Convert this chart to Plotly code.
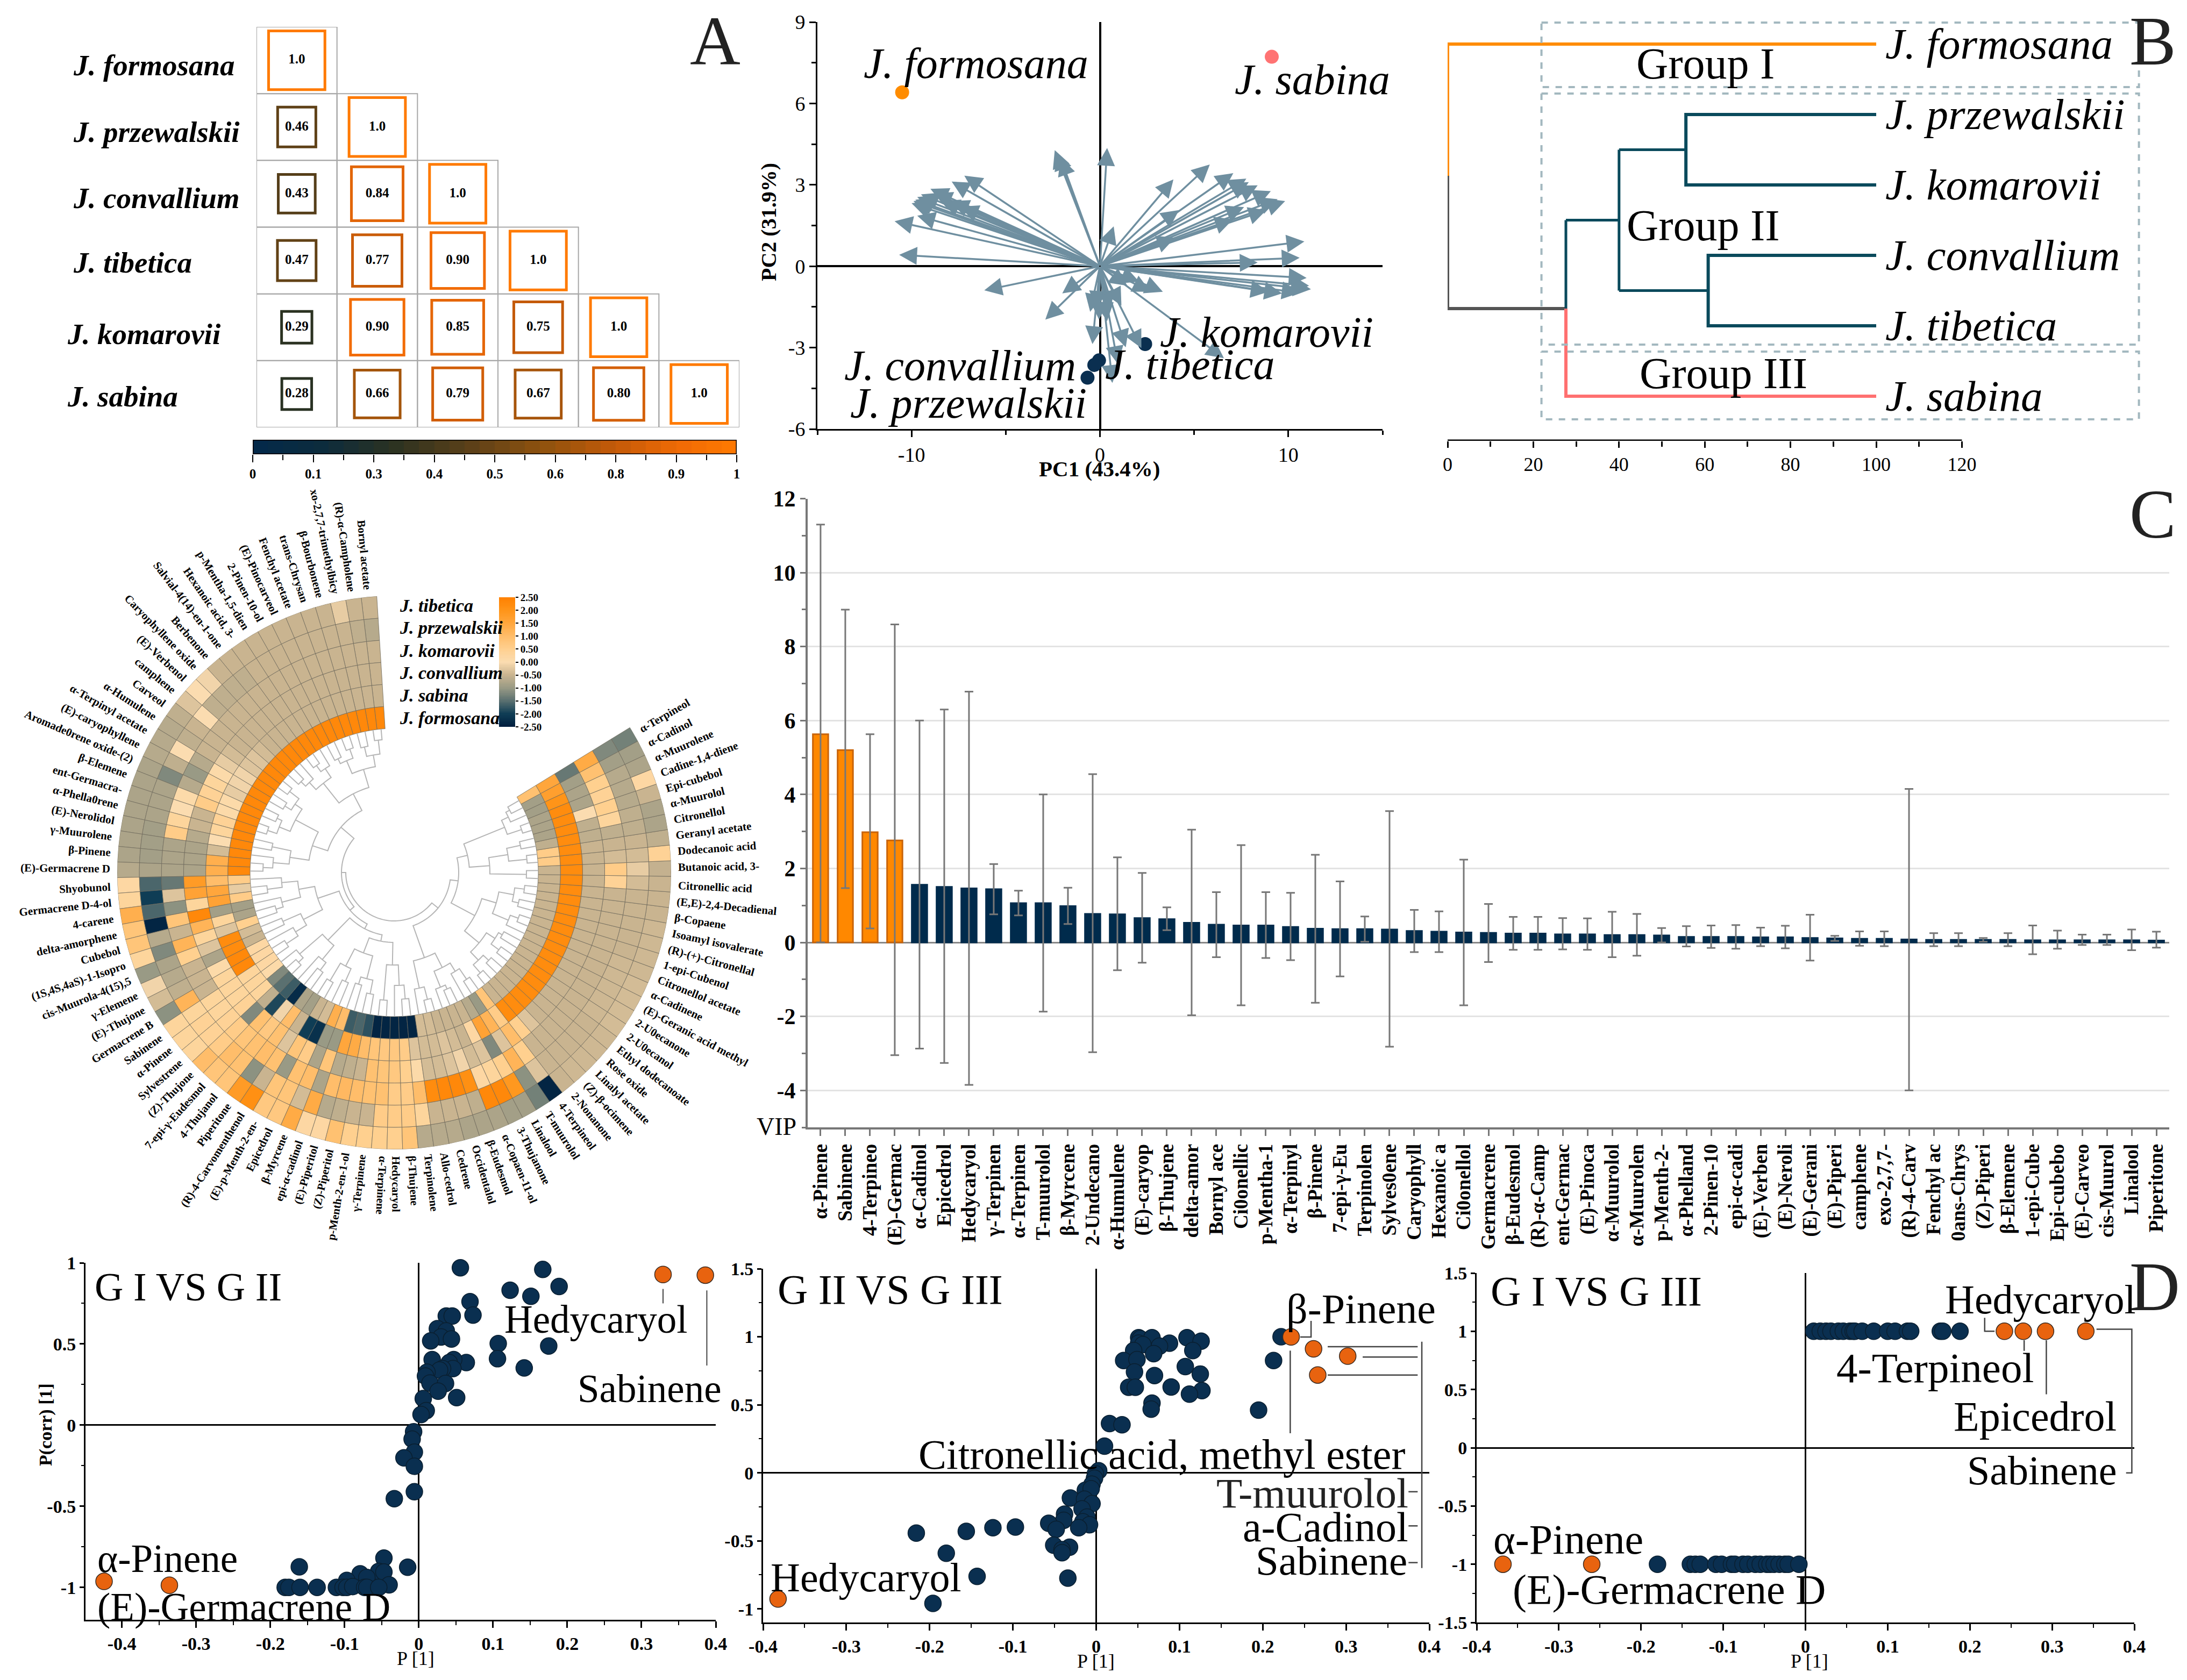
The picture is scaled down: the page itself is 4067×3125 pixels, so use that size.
import re
import numpy as np
import plotly.graph_objects as go

W, H = 4067, 3125
SERIF = "Liberation Serif"
NAVY = "#0a2f50"
ORANGE = "#e8630f"

# ---------- Panel A ----------
species_a = ["J. formosana", "J. przewalskii", "J. convallium", "J. tibetica", "J. komarovii", "J. sabina"]
corr_rows = [[1.0], [0.46, 1.0], [0.43, 0.84, 1.0], [0.47, 0.77, 0.90, 1.0],
             [0.29, 0.90, 0.85, 0.75, 1.0], [0.28, 0.66, 0.79, 0.67, 0.80, 1.0]]
corr_labels = [["1.0"], ["0.46", "1.0"], ["0.43", "0.84", "1.0"], ["0.47", "0.77", "0.90", "1.0"],
               ["0.29", "0.90", "0.85", "0.75", "1.0"], ["0.28", "0.66", "0.79", "0.67", "0.80", "1.0"]]
corr_bar_ticks = ["0", "0.1", "0.3", "0.4", "0.5", "0.6", "0.8", "0.9", "1"]
corr_scale = [[0, "#03294a"], [0.15, "#0d2c3c"], [0.3, "#2e3320"], [0.45, "#5c4018"], [0.6, "#8f520e"],
              [0.75, "#c45a08"], [0.88, "#f06a05"], [1, "#ff7a00"]]

# ---------- Panel B PCA ----------
pca_x = [-10.5, 9.12, 2.4, -0.05, -0.3, -0.66]
pca_y = [6.41, 7.72, -2.87, -3.47, -3.64, -4.11]
pca_col = ["#ff8c00", "#ff7373", NAVY, NAVY, NAVY, NAVY]
load_x = [-10.9, -10.66, -9.7, -10.0, -9.9, -9.8, -9.7, -9.5, -9.0, -8.8, -8.4, -7.9, -7.4, -7.87, -7.2, -2.4, -2.3, -2.1,
          0.38, 5.83, 3.9, 7.08, 7.77, 7.9, 8.37, 9.07, 9.43, 9.83, 8.84, 7.65, 4.2, 7.06, 3.98, 0.73, 10.85, 10.6, 8.37,
          10.97, 11.2, 10.6, 9.67, 8.95, 11.1, 3.34, 2.68, 2.08, 1.45, 6.58, 2.2, 1.37, 0.66, 0.95, 0.55, 1.14, -0.4, -0.05,
          -0.52, -0.17, 0.38, -2.9, -2.0, -6.14]
load_y = [1.66, 0.42, 1.86, 2.32, 2.4, 2.45, 2.55, 2.65, 2.85, 2.7, 2.4, 2.4, 2.2, 3.12, 3.34, 4.28, 4.2, 4.0,
          4.36, 3.75, 3.2, 3.43, 3.23, 3.1, 2.98, 2.77, 2.47, 2.4, 2.07, 2.18, 2.07, 1.73, 1.05, 1.47, 0.91, 0.31, 0.14,
          -0.43, -0.85, -0.98, -1.0, -0.94, -0.72, -0.94, -0.94, -0.57, -0.72, -3.39, -3.02, -2.99, -4.3, -3.6, -1.57, -1.45, -2.87, -1.97,
          -1.68, -1.57, -2.02, -1.97, -1.0, -0.89]

# ---------- Panel B dendrogram ----------
cluster_names = ["J. formosana", "J. przewalskii", "J. komarovii", "J. convallium", "J. tibetica", "J. sabina"]

# ---------- Panel C VIP ----------
vip_names = ["α-Pinene", "Sabinene", "4-Terpineo", "(E)-Germac", "α-Cadinol", "Epicedrol", "Hedycaryol", "γ-Terpinen",
             "α-Terpinen", "T-muurolol", "β-Myrcene", "2-Undecano", "α-Humulene", "(E)-caryop", "β-Thujene", "delta-amor",
             "Bornyl ace", "Ci0onellic", "p-Mentha-1", "α-Terpinyl", "β-Pinene", "7-epi-γ-Eu", "Terpinolen", "Sylves0ene",
             "Caryophyll", "Hexanoic a", "Ci0onellol", "Germacrene", "β-Eudesmol", "(R)-α-Camp", "ent-Germac", "(E)-Pinoca",
             "α-Muurolol", "α-Muurolen", "p-Menth-2-", "α-Phelland", "2-Pinen-10", "epi-α-cadi", "(E)-Verben", "(E)-Neroli",
             "(E)-Gerani", "(E)-Piperi", "camphene", "exo-2,7,7-", "(R)-4-Carv", "Fenchyl ac", "0ans-Chrys", "(Z)-Piperi",
             "β-Elemene", "1-epi-Cube", "Epi-cubebo", "(E)-Carveo", "cis-Muurol", "Linalool", "Piperitone"]
vip_val = [5.63, 5.2, 2.98, 2.76, 1.56, 1.5, 1.46, 1.44, 1.06, 1.06, 0.98, 0.77, 0.76, 0.66, 0.63, 0.53, 0.48, 0.46, 0.46,
           0.42, 0.37, 0.36, 0.36, 0.35, 0.31, 0.29, 0.27, 0.26, 0.24, 0.24, 0.22, 0.22, 0.2, 0.2, 0.19, 0.15, 0.15, 0.15,
           0.14, 0.14, 0.12, 0.11, 0.1, 0.1, 0.08, 0.07, 0.07, 0.07, 0.07, 0.06, 0.06, 0.06, 0.06, 0.06, 0.05]
vip_hi = [11.3, 9.0, 5.63, 8.6, 6.0, 6.3, 6.78, 2.12, 1.4, 4.0, 1.48, 4.55, 2.3, 1.88, 0.95, 3.05, 1.36, 2.63, 1.36,
          1.34, 2.37, 1.65, 0.7, 3.55, 0.88, 0.84, 2.24, 1.04, 0.69, 0.69, 0.66, 0.65, 0.83, 0.77, 0.39, 0.44, 0.46, 0.47,
          0.4, 0.45, 0.75, 0.18, 0.3, 0.3, 4.15, 0.25, 0.25, 0.12, 0.25, 0.46, 0.32, 0.21, 0.21, 0.35, 0.29]
vip_lo = [0.0, 1.47, 0.38, -3.05, -2.87, -3.26, -3.85, 0.76, 0.73, -1.87, 0.5, -2.97, -0.75, -0.55, 0.33, -1.97, -0.4, -1.7, -0.42,
          -0.48, -1.63, -0.92, 0.02, -2.82, -0.26, -0.26, -1.7, -0.53, -0.2, -0.2, -0.19, -0.2, -0.4, -0.36, 0.0, -0.11, -0.15, -0.17,
          -0.1, -0.16, -0.49, 0.04, -0.09, -0.1, -4.0, -0.1, -0.1, 0.02, -0.1, -0.32, -0.17, -0.07, -0.07, -0.21, -0.14]
vip_colors = ["#ff8800"] * 4 + ["#002b4c"] * 51

# ---------- Circular heat map ----------
ring_names = ["J. tibetica", "J. przewalskii", "J. komarovii", "J. convallium", "J. sabina", "J. formosana"]
compounds = ["Bornyl acetate", "(R)-α-Campholene", "xo-2,7,7-trimethylbicy", "β-Bourbonene", "trans-Chrysan", "Fenchyl acetate",
             "(E)-Pinocarveol", "2-Pinen-10-ol", "p-Mentha-1,5-dien", "Hexanoic acid, 3-", "Salvial-4(14)-en-1-one", "Berbenone",
             "Caryophyllene oxide", "(E)-Verbenol", "camphene", "Carveol", "α-Humulene", "α-Terpinyl acetate", "(E)-caryophyllene",
             "Aromade0rene oxide-(2)", "β-Elemene", "ent-Germacra-", "α-Phella0rene", "(E)-Nerolidol", "γ-Muurolene", "β-Pinene",
             "(E)-Germacrene D", "Shyobunol", "Germacrene D-4-ol", "4-carene", "delta-amorphene", "Cubebol", "(1S,4S,4aS)-1-Isopro",
             "cis-Muurola-4(15),5", "γ-Elemene", "(E)-Thujone", "Germacrene B", "Sabinene", "α-Pinene", "Sylvestrene", "(Z)-Thujone",
             "7-epi-γ-Eudesmol", "4-Thujanol", "Piperitone", "(R)-4-Carvomenthenol", "(E)-p-Menth-2-en-", "Epicedrol", "β-Myrcene",
             "epi-α-cadinol", "(E)-Piperitol", "(Z)-Piperitol", "p-Menth-2-en-1-ol", "γ-Terpinene", "α-Terpinene", "Hedycaryol",
             "β-Thujene", "Terpinolene", "Allo-cedrol", "Cedrene", "Occidentalol", "β-Eudesmol", "α-Copaen-11-ol", "3-Thujanone",
             "Linalool", "T-muurolol", "4-Terpineol", "2-Nonanone", "(Z)-β-ocimene", "Linalyl acetate", "Rose oxide",
             "Ethyl dodecanoate", "2-U0ecanol", "2-U0ecanone", "(E)-Geranic acid methyl", "α-Cadinene", "Citronellol acetate",
             "1-epi-Cubenol", "(R)-(+)-Citronellal", "Isoamyl isovalerate", "β-Copaene", "(E,E)-2,4-Decadienal", "Citronellic acid",
             "Butanoic acid, 3-", "Dodecanoic acid", "Geranyl acetate", "Citronellol", "α-Muurolol", "Epi-cubebol", "Cadine-1,4-diene",
             "α-Muurolene", "α-Cadinol", "α-Terpineol"]
z_tibetica = [-.5, -.5, -.2, -.5, -.5, -.5, -.5, -.5, -.5, -.5, -.5, -.5,
              -.1, 0, -.3, -.6, -.7, -.7, -.7, -.8, -.8, -.8, -.8, -.8, -.8, -.8, -.7,
              .2, .3, 1.3, .8, .8, .3, -1.0, -.1, -.4, -1.1, .3,
              .3, .3, 1.0, .8, .8, 1.8, 2.1, .7, .7, 1.4, .2, .2, .9, .5, .5, .5, .5, .8, -.7, -.7, -.7, -.8, -.8, -.8, -.9, -.9, -1.3, -2.4,
              -.5, -.45, -.45, -.45, -.45, -.4, -.4, -.4, -.4, -.45, -.45, -.45, -.45, -.5, -.5, -.5, -.55,
              .4, -.6, -.8, -.8, -.5, .2, -.8, -.9, -1.3]
z_przewalskii = [-.7, -.6, -.5, -.5, -.5, -.5, -.5, -.5, -.5, -.5, -.6, -.6,
                 -.6, -.6, 0, -.5, -.6, 0, -.6, -1.2, -.8, -.8, -.8, -.9, -.9, -.9, -.8,
                 -1.6, -2.0, -1.6, -2.4, -.7, -1.2, -.8, -.7, -.6, 1.2, .3,
                 .4, .4, .6, 1.0, .9, -1.1, -.5, .8, .8, -.4, 1.4, -.7, -.6, -.5, -.5, .6, .6, .6, .3, -.5, -.5, -.5, -.6, 2.3, 2.3, 1.9, -1.1, -.3,
                 -.5, -.5, -.5, -.5, -.5, -.45, -.45, -.45, -.45, -.45, -.5, -.5, -.5, -.5, -.5, -.4, -.2,
                 -.4, -.5, -.6, -.6, -.7, -.7, -.7, -.9, -1.2]
z_komarovii = [-.5] * 12 + [-.5, -.5, -.5, -.5, -.5, -.7, -1.0, -.7, .1, 0, .3, .6, -.8, -.8, -.8] + \
              [-1.4, -.3, -1.1, .8, -.5, 1.2, .5, -.5, -.5, -.5, .3] + \
              [.3, .4, .6, .8, .9, 1.0, .9, -1.0, .9, 1.0, -.8, 1.0, 1.1, 1.0, .9, .9, .6, .6, 1.0, 2.2, 2.3, 2.3, 2.1, .2, .3, .5, 1.2, .5] + \
              [-.5] * 15 + [.4, .6, -.4, -.5, -.6, .3, .5, .4, .5, .9, 1.4]
z_convallium = [-.5] * 12 + [-.5, -.5, -.5, -.4, -.2, .1, .3, .4, .6, -.5, -.5, -.7, -.8, -.8, -.8] + \
               [1.8, 1.6, .3, 2.3, 1.2, .3, -.3, -.8, .1, .3, .3] + \
               [.3, .4, -1.2, .9, .7, .9, -.3, .8, .6, -.8, .8, -.7, -.6, -.5, .9, .8, .7, .5, .1, -.4, -.4, -.3, -.1, -.4, -.3, -1.2, -.3, 1.0] + \
               [.5, -.3] + [-.5] * 17 + [-.6, -.6, 0, -.8, -.8, -.9, -1.4]
z_sabina = [-.5] * 12 + [-.5, -.4, -.3, -.3, -.1, -.1, -.2, .1, .1, .4, .3, 0, -.4, 1.3, 1.3] + \
           [1.0, 1.5, 1.6, -.9, .3, -.3, 2.2, 2.2, 2.3, 2.3, .3] + \
           [.3, .3, -.6, -1.9, -.1, 1.0, -.5, -2.0, -2.2, -1.0, -1.0, 1.5, 1.4, 1.0, .8, .7, .7, .6, -.3, -.4, -.4, -.3, -.4, -.5, .2, 1.6, 1.2, .6] + \
           [2.2] * 23 + [2.0, 1.7, 1.5]
z_formosana = [2.3] * 27 + [.6, -.2, .6, -.9, -.8, .5, -.4, -.5, .2, .2, .2] + \
              [.1, -1.2, -1.5, -1.7, -2.3, -.8, -.9, -.5, -.4, 1.3, 1.0, -1.7, -1.6, -1.8, -2.4, -2.4, -2.4, -2.4, -2.4, -.4, -.4, -.5, -.5, -.5, -.5, -.7, -1.0, .8] + \
              [-.5] * 17 + [.6, .6, -.6, -.8, -.8, -.8, -.9, -.9, .9]
heat_rings = [z_tibetica, z_przewalskii, z_komarovii, z_convallium, z_sabina, z_formosana]
heat_scale = [[0, "#001f3f"], [.1, "#0f3d55"], [.2, "#5a7070"], [.3, "#999a85"], [.4, "#c9b490"], [.5, "#fbdcb0"],
              [.6, "#ffd08f"], [.7, "#ffbd6a"], [.8, "#ffa63c"], [.9, "#ff9418"], [1, "#ff8000"]]
heat_ticks = ["-2.50", "-2.00", "-1.50", "-1.00", "-0.50", "0.00", "0.50", "1.00", "1.50", "2.00", "2.50"]
tree_a = "(((*,*)248,(*,*)240)222,((*,*)244,(*,*)236)226)200"
tree_b = "((*,(*,*)246)232,(*,(*,*)242)230)212"
tree_c = "(((*,*)246,(*,*)238)224,((*,*)240,(*,*)248)230)208"
tree_d = "((*,*)232,(*,(*,*)244)226)196"
tree_e = "((*,(*,*)238)210,(*,(*,*)230)216)180"
tree_f = "((*,*)226,(*,(*,*)240)214)190"
tree_g = "((*,(*,*)244)232,(*,(*,*)228)210)176"
tree_h = "(((*,*)234,(*,*)222)196,((*,*)218,(*,*)230)204)160"
tree_i = "((*,*)238,(*,(*,*)236)210)172"
tree_j = "((*,(*,*)244)220,((*,(*,*)238)230,(*,(*,*)240)216)198)168"
tree_k = "(((*,*)246,(*,*)240)226,((*,*)242,(*,*)232)224)205"
tree_l = "((*,(*,*)246)230,((*,*)238,(*,*)244)226)198"
tree_m = "((*,*)246,((*,*)248,(*,*)240)214)178"
tree_n = "((*,*)250,(*,(*,*)244)236)222"
wing_1 = f"(({tree_a},{tree_b})165,({tree_c},{tree_d})160)130"
wing_2 = f"(({tree_e},{tree_f})150,({tree_g},({tree_h},{tree_i})130)118)108"
wing_3 = f"({tree_j},(({tree_k},{tree_l})170,({tree_m},{tree_n})140)120)105"
heat_tree = f"(({wing_1},{wing_2})98,{wing_3})90"
for name, ring in zip(ring_names, heat_rings):
    assert len(ring) == 92, (name, len(ring))
assert len(compounds) == 92

# ---------- Panel D ----------
d1_x = [.056, .167, .189, .123, .151, .069, .073, .037, .045, .025, .037, .03, .044, .016, .107, .175, .106, .064, .047, .041, .018,
        .142, .046, .032, .028, .011, .009, .015, .036, .026, .051, .006, .01, .003, -.007, -.009, -.006, -.02, -.006, -.006, -.033,
        -.047, -.161, -.015, -.079, -.054, -.047, -.097, -.07, -.04, -.18, -.175, -.16, -.137, -.111, -.102, -.097, -.089, -.073, -.07, -.054]
d1_y = [.969, .959, .854, .831, .794, .761, .678, .672, .672, .594, .58, .543, .53, .519, .502, .487, .409, .385, .404, .385, .404,
        .352, .348, .348, .339, .326, .302, .259, .256, .209, .169, .163, .089, .065, -.041, -.087, -.167, -.202, -.254, -.411, -.454,
        -.82, -.874, -.876, -.917, -.902, -.906, -.957, -.939, -.985, -1, -1, -1, -1, -1, -1, -1, -.995, -1, -1, -1]
d1_ox = [-.424, -.336, .329, .386]
d1_oy = [-.963, -.987, .928, .924]
d2_x = [.222, .213, .195, .051, .053, .067, .109, .126, .088, .051, .076, .056, .045, .069, .116, .033, .049, .107, .046, .125, .07, .039,
        .047, .09, .127, .112, .067, .066, .016, .031, .01, .003, -.001, -.002, -.005, -.013, -.006, -.031, -.014, -.005, -.017, -.038,
        -.011, -.039, -.057, -.016, -.008, -.021, -.048, -.097, -.124, -.156, -.216, -.051, -.032, -.041, -.041, -.18, -.143, -.034, -.196]
d2_y = [1.0, .825, .461, .993, .985, .993, .993, .968, .953, .953, .931, .942, .898, .876, .898, .825, .832, .781, .741, .726, .715, .629,
        .629, .631, .604, .578, .512, .468, .362, .353, .196, .015, -.007, -.04, -.084, -.128, -.117, -.185, -.194, -.227, -.265, -.304,
        -.326, -.349, -.371, -.36, -.382, -.404, -.415, -.399, -.404, -.43, -.443, -.532, -.547, -.565, -.587, -.591, -.761, -.774, -.96]
d2_ox = [-.382, .234, .261, .302, .266]
d2_oy = [-.927, .999, .911, .858, .719]
d3_x = [.01, .018, .025, .031, .04, .046, .054, .058, .06, .069, .083, .1, .109, .124, .128, .164, .167, .188,
        -.18, -.14, -.134, -.128, -.109, -.102, -.09, -.086, -.076, -.07, -.061, -.055, -.047, -.043, -.038, -.032, -.025, -.021, -.008]
d3_y = [1] * 18 + [-1] * 19
d3_ox = [.242, .265, .292, .341, -.368, -.26]
d3_oy = [1, 1, 1, 1, -1, -1]
x_tick_vals = [-.4, -.3, -.2, -.1, 0, .1, .2, .3, .4]
x_tick_text = ["-0.4", "-0.3", "-0.2", "-0.1", "0", "0.1", "0.2", "0.3", "0.4"]
y_tick_vals = [-1.5, -1, -.5, 0, .5, 1, 1.5]
y_tick_text = ["-1.5", "-1", "-0.5", "0", "0.5", "1", "1.5"]


# ---------- helpers ----------
def fx(px):
    return px / W


def fy(px):
    return 1 - px / H


layout = dict(width=W, height=H, margin=dict(l=0, r=0, t=0, b=0, pad=0, autoexpand=False), paper_bgcolor="white", plot_bgcolor="rgba(0,0,0,0)",
              showlegend=False, font=dict(family=SERIF, color="black"))
annotations, shapes, traces = [], [], []


def axes(n, x0, x1, y0, y1, xr, yr, xa=None, ya=None):
    s = "" if n == 1 else str(n)
    xd = dict(domain=[fx(x0), fx(x1)], range=xr, anchor="y" + s, visible=False, fixedrange=True)
    yd = dict(domain=[fy(y1), fy(y0)], range=yr, anchor="x" + s, visible=False, fixedrange=True)
    xd.update(xa or {})
    yd.update(ya or {})
    layout["xaxis" + s] = xd
    layout["yaxis" + s] = yd
    return "x" + s, "y" + s


def text(x, y, t, size, anchor="center", color="black", bold=False, italic=False, angle=0, yanchor="middle"):
    if bold:
        t = "<b>" + t + "</b>"
    if italic:
        t = "<i>" + t + "</i>"
    annotations.append(dict(xref="paper", yref="paper", x=fx(x), y=fy(y), text=t, showarrow=False, xanchor=anchor, yanchor=yanchor,
                            textangle=angle, font=dict(family=SERIF, size=size, color=color)))


def lines(xn, yn, xs, ys, color, width, dash=None):
    traces.append(go.Scatter(x=xs, y=ys, xaxis=xn, yaxis=yn, mode="lines", cliponaxis=False, hoverinfo="skip",
                             line=dict(color=color, width=width, dash=dash)))


def ax_num(**kw):
    d = dict(visible=True, showline=True, linecolor="black", linewidth=3, ticks="outside", tickcolor="black", tickwidth=3, ticklen=12,
             showgrid=False, zeroline=False)
    d.update(kw)
    return d


# ---------- A: correlation matrix ----------
xa, ya = axes(1, 477, 1375, 50, 795, [0, 6], [6, 0])
cx, cy, ct = [], [], []
low = corr_scale
def corr_color(v):
    for (a, ca), (b, cb) in zip(low[:-1], low[1:]):
        if a <= v <= b:
            f = (v - a) / (b - a)
            ra = [int(ca[i:i + 2], 16) for i in (1, 3, 5)]
            rb = [int(cb[i:i + 2], 16) for i in (1, 3, 5)]
            return "rgb(%d,%d,%d)" % tuple(ra[k] + (rb[k] - ra[k]) * f for k in range(3))
    return low[-1][1]
for r, row in enumerate(corr_rows):
    for c, v in enumerate(row):
        shapes.append(dict(type="rect", xref=xa, yref=ya, x0=c, x1=c + 1, y0=r, y1=r + 1, line=dict(color="#a8a8a8", width=2), layer="below"))
        hw = 0.35 * np.sqrt(v)
        hh = 0.44 * np.sqrt(v)
        shapes.append(dict(type="rect", xref=xa, yref=ya, x0=c + .5 - hw, x1=c + .5 + hw, y0=r + .5 - hh, y1=r + .5 + hh,
                           line=dict(color=corr_color(v), width=5)))
        cx.append(c + .5)
        cy.append(r + .5)
        ct.append("<b>" + corr_labels[r][c] + "</b>")
traces.append(go.Scatter(x=cx, y=cy, xaxis=xa, yaxis=ya, mode="text", text=ct, textfont=dict(family=SERIF, size=25, color="black"), hoverinfo="skip"))
for name, px, py in zip(species_a, [134, 134, 134, 134, 123, 123], [122, 245, 369, 489, 621, 737]):
    text(px, py, name, 55, anchor="left", bold=True, italic=True)
xb, yb = axes(2, 470, 1370, 818, 845, [0, 1], [-.5, .5],
              xa=dict(visible=True, showline=False, ticks="outside", tickcolor="black", tickwidth=2, ticklen=14,
                      tickvals=[i / 8 for i in range(9)], ticktext=["<b>%s</b>" % t for t in corr_bar_ticks],
                      tickfont=dict(family=SERIF, size=25), showgrid=False, zeroline=False,
                      minor=dict(dtick=1 / 16, tick0=0, ticks="outside", ticklen=10, tickcolor="black", tickwidth=2)))
bar_steps = np.linspace(0.015, 0.985, 32)
traces.append(go.Heatmap(x=np.linspace(0, 1, 33), y=[-.5, .5], z=[bar_steps], xaxis=xb, yaxis=yb, zmin=0, zmax=1, colorscale=corr_scale, showscale=False,
                         hoverinfo="skip"))
shapes.append(dict(type="rect", xref=xb, yref=yb, x0=0, x1=1, y0=-.5, y1=.5, line=dict(color="black", width=3)))
text(1330, 76, "A", 130, color="#222222")

# ---------- B: PCA ----------
xp, yp = axes(3, 1520, 2571, 41, 798, [-15, 15], [-6, 9],
              xa=ax_num(tickvals=[-10, 0, 10], ticktext=["-10", "0", "10"], tickfont=dict(family=SERIF, size=38),
                        zeroline=True, zerolinecolor="black", zerolinewidth=4,
                        minor=dict(dtick=5, tick0=0, ticks="outside", ticklen=8, tickcolor="black", tickwidth=3)),
              ya=ax_num(tickvals=[-6, -3, 0, 3, 6, 9], ticktext=["-6", "-3", "0", "3", "6", "9"], tickfont=dict(family=SERIF, size=38),
                        zeroline=True, zerolinecolor="black", zerolinewidth=4,
                        minor=dict(dtick=1.5, tick0=0, ticks="outside", ticklen=8, tickcolor="black", tickwidth=3)))
for lx, ly in zip(load_x, load_y):
    annotations.append(dict(xref=xp, yref=yp, axref=xp, ayref=yp, x=lx, y=ly, ax=0, ay=0, text="", showarrow=True, arrowhead=2,
                            arrowsize=1.9, arrowwidth=3.5, arrowcolor="#6f8fa0"))
traces.append(go.Scatter(x=pca_x, y=pca_y, xaxis=xp, yaxis=yp, mode="markers", marker=dict(color=pca_col, size=26), cliponaxis=False, hoverinfo="skip"))
for t, px, py in [("J. formosana", 1815, 118), ("J. sabina", 2440, 148), ("J. komarovii", 2355, 618),
                  ("J. tibetica", 2212, 678), ("J. convallium", 1785, 680), ("J. przewalskii", 1801, 750)]:
    text(px, py, t, 80, italic=True)
text(2044, 872, "PC1 (43.4%)", 41, bold=True)
text(1429, 413, "PC2 (31.9%)", 40, bold=True, angle=-90)

# ---------- B: dendrogram ----------
def leaf(px):
    return (px - 82) / 131


xd, yd = axes(4, 2692, 3980, 0, 820, [0, 161.6], [leaf(820), leaf(0)],
              xa=dict(visible=True, showline=False, ticks="outside", tickcolor="black", tickwidth=3, ticklen=12, showgrid=False, zeroline=False,
                      tickvals=[0, 20, 40, 60, 80, 100, 120], tickfont=dict(family=SERIF, size=36),
                      minor=dict(tickvals=[10, 30, 50, 70, 90, 110], ticks="outside", ticklen=10, tickcolor="black", tickwidth=3)))
TEAL = "#0a4a5c"
lines(xd, yd, [0, 120], [leaf(819), leaf(819)], "black", 3)
lines(xd, yd, [100, 0, 0], [0, 0, leaf(327)], "#ff8c00", 6)
lines(xd, yd, [0, 0, 27.6], [leaf(327), leaf(574), leaf(574)], "#555555", 6)
lines(xd, yd, [27.6, 27.6, 100], [leaf(574), 5, 5], "#ff7070", 6)
lines(xd, yd, [27.6, 27.6], [leaf(574), 2.5], TEAL, 5)
lines(xd, yd, [27.6, 40, 40, 40], [2.5, 2.5, 1.5, 3.5], TEAL, 5)
lines(xd, yd, [100, 55.6, 55.6, 100], [1, 1, 2, 2], TEAL, 6)
lines(xd, yd, [40, 55.6], [1.5, 1.5], TEAL, 5)
lines(xd, yd, [100, 60.8, 60.8, 100], [3, 3, 4, 4], TEAL, 6)
lines(xd, yd, [40, 60.8], [3.5, 3.5], TEAL, 5)
for top, bottom in [(42, 162), (174, 641), (654, 780)]:
    lines(xd, yd, [21.9, 161.3, 161.3, 21.9, 21.9], [leaf(top), leaf(top), leaf(bottom), leaf(bottom), leaf(top)], "#a3b8bf", 4, "dash")
for i, t in enumerate(cluster_names):
    text(3504, 82 + 131 * i, t, 81, anchor="left", italic=True)
for t, px, py in [("Group I", 3171, 118), ("Group II", 3167, 420), ("Group III", 3205, 695)]:
    text(px, py, t, 82)
text(4003, 76, "B", 130, color="#222222")

# ---------- Circular heat map ----------
CXH, CYH, RH = 733, 1623, 515
RING_IN = 268
ring_w = (RH - RING_IN) / 6
A0 = 3.6
dA = 298 / 92
th, rr, bs, zz = [], [], [], []
for k, ring in enumerate(heat_rings):
    for i, v in enumerate(ring):
        th.append(A0 + (i + .5) * dA)
        rr.append(ring_w)
        bs.append(RH - (k + 1) * ring_w)
        zz.append(v)
traces.append(go.Barpolar(theta=th, r=rr, base=bs, width=dA, subplot="polar", hoverinfo="skip", showlegend=False,
                          marker=dict(color=zz, colorscale=heat_scale, cmin=-2.5, cmax=2.5, showscale=False, line=dict(color="#6f6a5c", width=.8))))
dth, dr = [], []
pos = 0
nleaf = 0
def parse():
    global pos, nleaf
    if heat_tree[pos] == "*":
        pos += 1
        a = A0 + (nleaf + .5) * dA
        nleaf += 1
        return a, RING_IN
    pos += 1
    t1, r1 = parse()
    pos += 1
    t2, r2 = parse()
    pos += 1
    m = re.match(r"\d+", heat_tree[pos:])
    r = int(m.group())
    pos += m.end()
    steps = max(2, int(abs(t2 - t1) / 2) + 2)
    arc = list(np.linspace(t1, t2, steps))
    dth.extend([t1] + arc + [t2, None])
    dr.extend([r1] + [r] * steps + [r2, None])
    return (t1 + t2) / 2, r
parse()
assert nleaf == 92, nleaf
traces.append(go.Scatterpolar(theta=dth, r=dr, subplot="polar", mode="lines", line=dict(color="#b5b5b5", width=2), hoverinfo="skip", connectgaps=False))
layout["polar"] = dict(domain=dict(x=[fx(CXH - RH), fx(CXH + RH)], y=[fy(CYH + RH), fy(CYH - RH)]), bgcolor="rgba(0,0,0,0)",
                       radialaxis=dict(range=[0, RH], visible=False), angularaxis=dict(rotation=90, direction="counterclockwise", visible=False))
LBL_H = 24
for i, name in enumerate(compounds):
    A = A0 + (i + .5) * dA
    a = np.radians(A)
    px = CXH - 526 * np.sin(a)
    py = CYH - 526 * np.cos(a)
    outward = i >= 53
    ang = (270 - A) if outward else (90 - A)
    anch = "left" if outward else "right"
    upper = A < 90 or A > 270
    ya_ = "bottom" if upper else "top"
    phi = np.radians(ang)
    px += (-1 if outward else 1) * LBL_H / 2 * abs(np.sin(phi))
    py += (1 if upper else -1) * LBL_H / 2 * abs(np.cos(phi))
    text(px, py, name, 21, anchor=anch, bold=True, angle=ang, yanchor=ya_)
for t, py in zip(ring_names, [1126, 1167, 1210, 1251, 1293, 1335]):
    text(741, py, t, 34, anchor="left", bold=True, italic=True)
xh, yh = axes(5, 928, 958, 1111, 1352, [0, 1], [-2.5, 2.5],
              ya=dict(visible=True, side="right", showline=False, ticks="outside", ticklen=5, tickcolor="black", tickwidth=2,
                      tickvals=[-2.5 + .5 * i for i in range(11)], ticktext=["<b>%s</b>" % s for s in heat_ticks],
                      tickfont=dict(family=SERIF, size=19), showgrid=False, zeroline=False))
bar_levels = np.linspace(-2.5, 2.5, 101)
traces.append(go.Heatmap(x=[0, 1], y=bar_levels, z=[[v] for v in bar_levels], xaxis=xh, yaxis=yh, zmin=-2.5, zmax=2.5, colorscale=heat_scale,
                         showscale=False, hoverinfo="skip"))

# ---------- C: VIP ----------
vip_cats = ["<b>%s</b>" % n for n in vip_names]
xv, yv = axes(6, 1502, 4034, 927.5, 2097, [-0.52, 54.52], [-5, 12],
              xa=dict(visible=True, showline=True, linecolor="#777777", linewidth=4, ticks="outside", tickcolor="#777777", tickwidth=3, ticklen=12,
                      type="category", tickangle=-90, tickfont=dict(family=SERIF, size=37), showgrid=False, zeroline=False, categoryorder="array",
                      categoryarray=vip_cats, tickmode="array", tickvals=vip_cats, ticktext=vip_cats),
              ya=dict(visible=True, showline=True, linecolor="#777777", linewidth=4, ticks="outside", tickcolor="#777777", tickwidth=3, ticklen=10,
                      tickvals=[-4, -2, 0, 2, 4, 6, 8, 10, 12], ticktext=["<b>%s</b>" % s for s in ["-4", "-2", "0", "2", "4", "6", "8", "10", "12"]],
                      tickfont=dict(family=SERIF, size=42), showgrid=True, gridcolor="#e3e3e3", gridwidth=3, zeroline=True,
                      zerolinecolor="#888888", zerolinewidth=3,
                      minor=dict(dtick=1, tick0=0, ticks="outside", ticklen=7, tickcolor="#777777", tickwidth=3)))
traces.append(go.Bar(x=vip_cats, y=vip_val, xaxis=xv, yaxis=yv, width=.62, hoverinfo="skip",
                     marker=dict(color=vip_colors, line=dict(color=["#c9640a"] * 4 + ["#002b4c"] * 51, width=3)),
                     error_y=dict(type="data", symmetric=False, array=[h - v for h, v in zip(vip_hi, vip_val)],
                                  arrayminus=[v - l for l, v in zip(vip_lo, vip_val)], color="#777777", thickness=3, width=8)))
text(1444, 2095, "VIP", 46)
text(4003, 956, "C", 130, color="#222222")

# ---------- D ----------
def scatter_panel(n, box, xr, yr, xs, ys, oxs, oys, ytv, ytt):
    xn, yn = axes(n, *box, xr, yr,
                  xa=ax_num(tickvals=x_tick_vals, ticktext=["<b>%s</b>" % s for s in x_tick_text], tickfont=dict(family=SERIF, size=34),
                            zeroline=True, zerolinecolor="black", zerolinewidth=3,
                            minor=dict(dtick=.05, tick0=0, ticks="outside", ticklen=7, tickcolor="black", tickwidth=2)),
                  ya=ax_num(tickvals=ytv, ticktext=["<b>%s</b>" % s for s in ytt], tickfont=dict(family=SERIF, size=34),
                            zeroline=True, zerolinecolor="black", zerolinewidth=3, ticklen=8,
                            minor=dict(dtick=.25, tick0=0, ticks="outside", ticklen=5, tickcolor="black", tickwidth=2)))
    traces.append(go.Scatter(x=xs, y=ys, xaxis=xn, yaxis=yn, mode="markers", cliponaxis=False, hoverinfo="skip",
                             marker=dict(color=NAVY, size=31, line=dict(color="#0a1f30", width=1.5))))
    traces.append(go.Scatter(x=oxs, y=oys, xaxis=xn, yaxis=yn, mode="markers", cliponaxis=False, hoverinfo="skip",
                             marker=dict(color=ORANGE, size=31, line=dict(color="#3a2a20", width=1.5))))
    return xn, yn


x1, y1 = scatter_panel(7, (159, 1331, 2349, 3013), [-.449, .4], [-1.2, 1.0], d1_x, d1_y, d1_ox, d1_oy, [-1, -.5, 0, .5, 1], ["-1", "-0.5", "0", "0.5", "1"])
lines(x1, y1, [.329, .329], [.839, .75], "#444444", 2)
lines(x1, y1, [.388, .388], [.83, .367], "#444444", 2)
text(350, 2394, "G I VS G II", 74)
text(1108, 2454, "Hedycaryol", 73)
text(1208, 2583, "Sabinene", 73)
text(311, 2899, "α-Pinene", 73)
text(453, 2989, "(E)-Germacrene D", 73)
text(773, 3085, "P [1]", 36)
text(85, 2650, "P(corr) [1]", 34, bold=True, angle=-90)

x2, y2 = scatter_panel(8, (1419, 2658, 2360, 3018), [-.4, .4], [-1.1, 1.5], d2_x, d2_y, d2_ox, d2_oy, [-1, -.5, 0, .5, 1, 1.5], ["-1", "-0.5", "0", "0.5", "1", "1.5"])
for seg in [([.233, .233], [.898, .291]), ([.391, .391], [.964, -.70]), ([.278, .386], [.927, .927]), ([.32, .386], [.851, .851]),
            ([.278, .386], [.719, .719]), ([.375, .386], [-.139, -.139]), ([.375, .386], [-.39, -.39]), ([.375, .386], [-.66, -.66]),
            ([.245, .258, .258], [.998, .998, 1.117])]:
    lines(x2, y2, seg[0], seg[1], "#444444", 2.5)
text(1655, 2398, "G II VS G III", 78)
text(2531, 2434, "β-Pinene", 78)
text(2160, 2705, "Citronellic acid, methyl ester", 78)
text(2440, 2777, "T-muurolol", 79, color="#222222")
text(2465, 2840, "a-Cadinol", 78)
text(2476, 2903, "Sabinene", 77)
text(1610, 2934, "Hedycaryol", 76)
text(2038, 3090, "P [1]", 36)

x3, y3 = scatter_panel(9, (2746, 3969, 2368, 3018), [-.4, .4], [-1.5, 1.5], d3_x, d3_y, d3_ox, d3_oy, y_tick_vals, y_tick_text)
for seg in [([.218, .218, .23], [1.116, 1.0, 1.0]), ([.266, .266], [.923, .832]), ([.293, .293], [.923, .459]),
            ([.354, .397, .397, .39], [1.018, 1.018, -.216, -.216])]:
    lines(x3, y3, seg[0], seg[1], "#444444", 2.5)
text(2968, 2401, "G I VS G III", 78)
text(3794, 2417, "Hedycaryol", 76)
text(3598, 2544, "4-Terpineol", 79)
text(3784, 2634, "Epicedrol", 78)
text(3797, 2735, "Sabinene", 76)
text(2916, 2863, "α-Pinene", 78)
text(3104, 2956, "(E)-Germacrene D", 78)
text(3365, 3090, "P [1]", 36)
text(4007, 2393, "D", 130, color="#222222")

layout["annotations"] = annotations
layout["shapes"] = shapes
fig = go.Figure(data=traces, layout=layout)
fig.write_html("out.html", config={"displayModeBar": False}, post_script="document.body.style.margin='0';document.body.style.overflow='hidden';")
